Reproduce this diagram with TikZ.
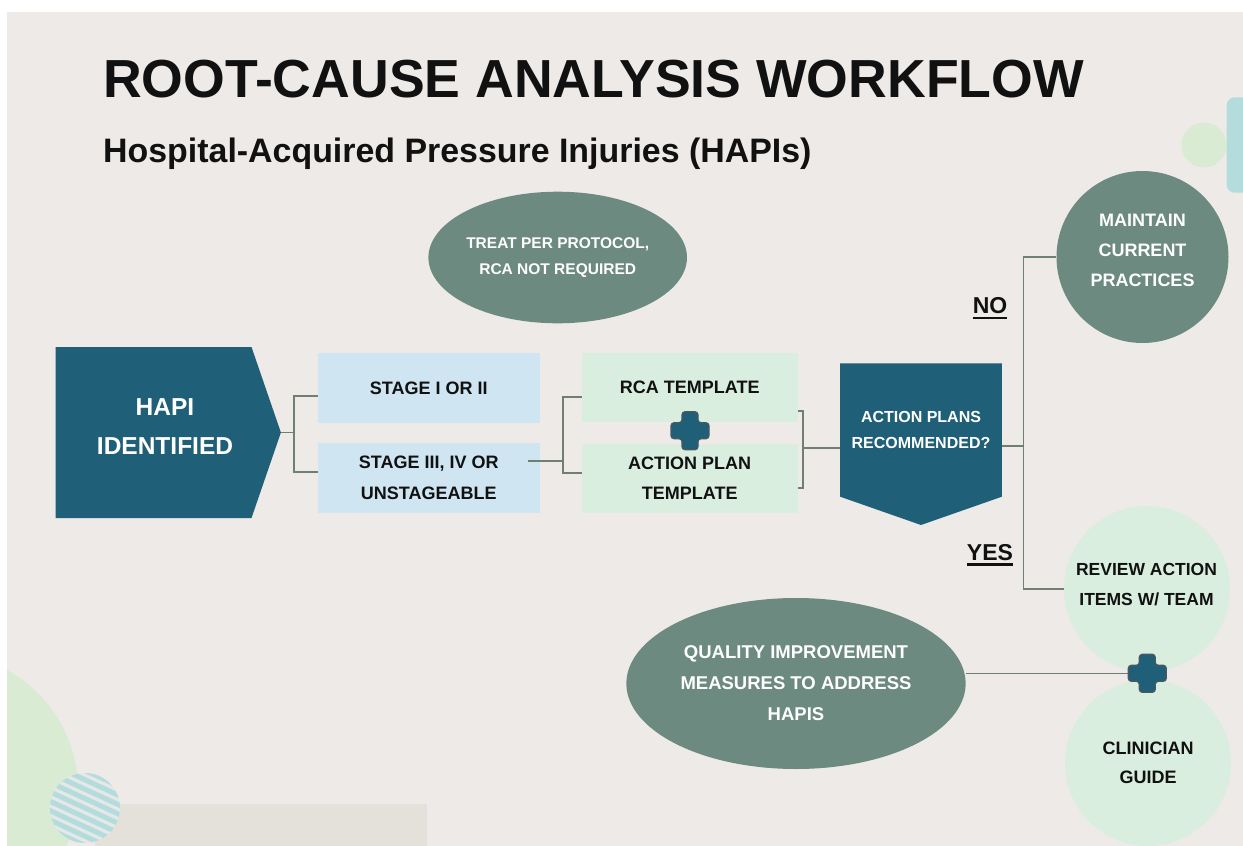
\documentclass[tikz,border=0pt]{standalone}
\usepackage{fontspec}
\setmainfont{Liberation Sans}
\usetikzlibrary{shapes.geometric,calc}
\definecolor{bgc}{HTML}{EEEAE7}
\definecolor{darkteal}{HTML}{1F5F78}
\definecolor{sage}{HTML}{6C8A80}
\definecolor{lblue}{HTML}{CFE6F2}
\definecolor{lgreen}{HTML}{DAEEDF}
\definecolor{connc}{HTML}{6F8073}
\definecolor{decogreen}{HTML}{D9EBD3}
\definecolor{decoteal}{HTML}{B4DCDC}
\definecolor{beige}{HTML}{E4E0DA}
\definecolor{stripebg}{HTML}{E4E8E6}
\definecolor{ink}{HTML}{111111}
\definecolor{plusedge}{HTML}{4A5860}
\newcommand{\fsz}[2]{\fontsize{#1}{#2}\selectfont}
\tikzset{
  conn/.style={draw=connc, line width=1.6pt},
  rbox/.style={rectangle, inner sep=0pt, outer sep=0pt},
  lbl/.style={align=center, inner sep=0pt},
  plusmark/.pic={
    \filldraw[fill=darkteal, draw=plusedge, line width=1.2pt, rounded corners=3pt]
      (-8,-19) -- (8,-19) -- (8,-8) -- (19,-8) -- (19,8) -- (8,8) -- (8,19)
      -- (-8,19) -- (-8,8) -- (-19,8) -- (-19,-8) -- (-8,-8) -- cycle;
  }
}
\begin{document}
\begin{tikzpicture}[x=1pt,y=-1pt]
\useasboundingbox (0,0) rectangle (1243,846);
\fill[white] (0,0) rectangle (1243,846);
\fill[bgc] (7,12) rectangle (1243,846);
% decorations
\begin{scope}
  \clip (7,12) rectangle (1243,846);
  \fill[decogreen] (-59,790) circle (137);
  \fill[beige] (95,804) rectangle (427,846);
  \begin{scope}
    \clip (85,808) circle (35);
    \fill[stripebg] (85,808) circle (35);
    \foreach \k in {-7,...,7}
      \draw[decoteal, line width=5pt] (20,{808+\k*9.4-30}) -- (150,{808+\k*9.4+30});
  \end{scope}
  \fill[decogreen] (1204,145) circle (22.5);
  \fill[decoteal, rounded corners=8pt] (1226.7,97.3) rectangle (1262,192.7);
\end{scope}
% titles
\node[anchor=base west, inner sep=0pt, font=\bfseries\fsz{53.6}{60}, text=ink] (title) at (103,97) {ROOT-CAUSE ANALYSIS WORKFLOW};
\node[anchor=base west, inner sep=0pt, font=\bfseries\fsz{33.9}{40}, text=ink] (subtitle) at (103,162) {Hospital-Acquired Pressure Injuries (HAPIs)};
% treat ellipse
\node[ellipse, fill=sage, minimum width=243.4pt, minimum height=131.6pt, inner sep=0pt, lbl, text=white, font=\bfseries\fsz{15.5}{26.7}] (treat) at (557.7,257.5) {TREAT PER PROTOCOL,\\RCA NOT REQUIRED};
% HAPI identified
\node[rbox, minimum width=196pt, minimum height=171pt] (hapi) at (153.5,432.5) {};
\fill[darkteal] (hapi.north west) -- (hapi.north east) -- ([xshift=29.4pt]hapi.east) -- (hapi.south east) -- (hapi.south west) -- cycle;
\coordinate (hapitip) at ([xshift=29.4pt]hapi.east);
\node[lbl, text=white, font=\bfseries\fsz{24.5}{39}] (hapitxt) at (165,426.5) {HAPI\\IDENTIFIED};
% stages
\node[rbox, fill=lblue, minimum width=222.5pt, minimum height=70.3pt, lbl, font=\bfseries\fsz{18}{31}, text=ink] (s1) at (428.75,387.85) {STAGE I OR II};
\node[rbox, fill=lblue, minimum width=222.5pt, minimum height=70.3pt, lbl, font=\bfseries\fsz{18}{31}, text=ink] (s3) at (428.75,477.85) {STAGE III, IV OR\\UNSTAGEABLE};
% templates
\node[rbox, fill=lgreen, minimum width=216pt, minimum height=69pt, lbl, font=\bfseries\fsz{18}{30}, text=ink] (rca) at (689.7,387.2) {RCA TEMPLATE};
\node[rbox, fill=lgreen, minimum width=216pt, minimum height=69pt, lbl, font=\bfseries\fsz{18}{30}, text=ink] (ap) at (689.7,478.5) {ACTION PLAN\\TEMPLATE};
% action plans recommended
\node[rbox, minimum width=161.7pt, minimum height=133.4pt] (apq) at (921,430) {};
\fill[darkteal] (apq.north west) -- (apq.north east) -- (apq.south east) -- ([yshift=-28.3pt]apq.south) -- (apq.south west) -- cycle;
\node[lbl, text=white, font=\bfseries\fsz{16}{26.6}] (apqtxt) at (921,430) {ACTION PLANS\\RECOMMENDED?};
% outcome circles
\node[circle, fill=sage, minimum size=172pt, inner sep=0pt] (maint) at (1142.5,257) {};
\node[lbl, text=white, font=\bfseries\fsz{18}{29.7}] (mainttxt) at (1142.5,250.3) {MAINTAIN\\CURRENT\\PRACTICES};
\node[circle, fill=lgreen, minimum size=166pt, inner sep=0pt] (rev) at (1147,589) {};
\node[lbl, text=ink, font=\bfseries\fsz{17.5}{30}] (revtxt) at (1146.5,585) {REVIEW ACTION\\ITEMS W/ TEAM};
\node[circle, fill=lgreen, minimum size=166pt, inner sep=0pt] (clin) at (1148,763) {};
\node[lbl, text=ink, font=\bfseries\fsz{18}{29}] (clintxt) at (1148,762.5) {CLINICIAN\\GUIDE};
% quality improvement
\node[ellipse, fill=sage, minimum width=339.3pt, minimum height=171pt, inner sep=0pt, lbl, text=white, font=\bfseries\fsz{18.5}{31}] (qi) at (796,683.5) {QUALITY IMPROVEMENT\\MEASURES TO ADDRESS\\HAPIS};
% NO / YES
\node[anchor=base, inner sep=0pt, font=\bfseries\fsz{23}{28}, text=ink] (no) at (990,313.3) {NO};
\draw[ink, line width=2.4pt] ([yshift=-4.5pt]no.base west) -- ([yshift=-4.5pt]no.base east);
\node[anchor=base, inner sep=0pt, font=\bfseries\fsz{23}{28}, text=ink] (yes) at (990,560) {YES};
\draw[ink, line width=2.4pt] ([yshift=-4.5pt]yes.base west) -- ([yshift=-4.5pt]yes.base east);
% connectors
\coordinate (bl) at (293.8,432.5);
\draw[conn] (hapitip) -- (bl);
\draw[conn] ([yshift=-8.15pt]s1.west) -| (bl) |- ([yshift=6.15pt]s3.west);
\coordinate (bm) at (562.7,461);
\draw[conn] ([xshift=-12.4pt,yshift=16.85pt]s3.east) -- (bm);
\draw[conn] ([yshift=-9.5pt]rca.west) -| (bm) |- ([yshift=5.8pt]ap.west);
\coordinate (br) at (802.7,448);
\draw[conn] ([yshift=-23.8pt]rca.east) -| (br) |- ([yshift=-9.2pt]ap.east);
\draw[conn] (br) -- ([yshift=-18pt]apq.west);
\coordinate (bd) at (1023.3,446);
\draw[conn] ([yshift=-16pt]apq.east) -- (bd);
\draw[conn] (maint.west) -| (bd) |- (rev.west);
% plus marks
\node[rbox, minimum size=38pt] (plusone) at (690,430.7) {};
\pic at (plusone) {plusmark};
\node[rbox, minimum size=38pt] (plustwo) at (1147.3,673.3) {};
\draw[conn] (qi.east |- plustwo) -- (plustwo.west);
\pic at (plustwo) {plusmark};
\end{tikzpicture}
\end{document}
